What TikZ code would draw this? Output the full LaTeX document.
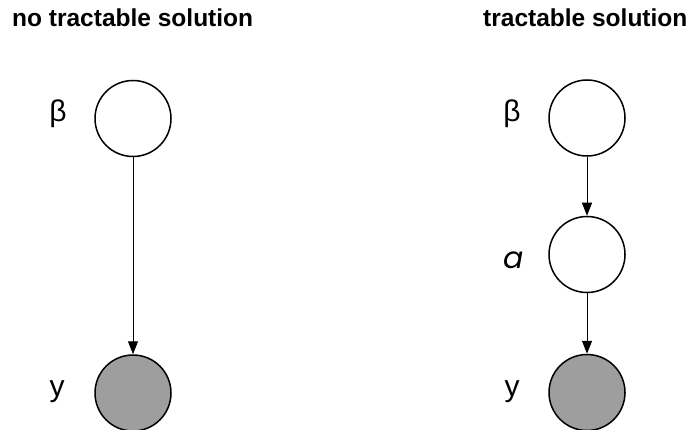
\documentclass[tikz,border=0pt]{standalone}
\usepackage{fontspec}
\setmainfont{Liberation Sans}
\newfontfamily\popfont{Poppins}
\usetikzlibrary{arrows.meta}
\begin{document}
\begin{tikzpicture}[x=1pt,y=-1pt,
  var/.style={circle,draw=black,line width=1.5pt,fill=white,minimum size=76pt,inner sep=0pt},
  obs/.style={var,fill=obsgray},
  lbl/.style={anchor=base,inner sep=0pt,font=\fontsize{30}{30}\selectfont},
  ttl/.style={anchor=base west,inner sep=0pt,font=\fontsize{24.5}{24.5}\selectfont\bfseries},
  edge/.style={line width=1pt,-{Triangle[length=13pt,width=10pt]}}]
\definecolor{obsgray}{RGB}{158,158,158}
\useasboundingbox (0,0) rectangle (692,430);
% titles
\node[ttl] (t1) at (12,26.5) {no tractable solution};
\node[ttl] (t2) at (483,26.5) {tractable solution};
% left model
\node[var] (b1) at (133,118.5) {};
\node[obs] (y1) at (133,393) {};
\node[lbl] (lb1) at (58,122) {β};
\node[lbl] (ly1) at (57,396) {y};
\draw[edge] (b1) -- (y1);
% right model
\node[var] (b2) at (587,118) {};
\node[var] (a2) at (587,254.5) {};
\node[obs] (y2) at (587,392.5) {};
\node[lbl] (lb2) at (512,122) {β};
\node[lbl,font=\fontsize{30}{30}\popfont\itshape] (la2) at (514,268) {a};
\node[lbl] (ly2) at (512,396) {y};
\draw[edge] (b2) -- (a2);
\draw[edge] (a2) -- (y2);
\end{tikzpicture}
\end{document}
